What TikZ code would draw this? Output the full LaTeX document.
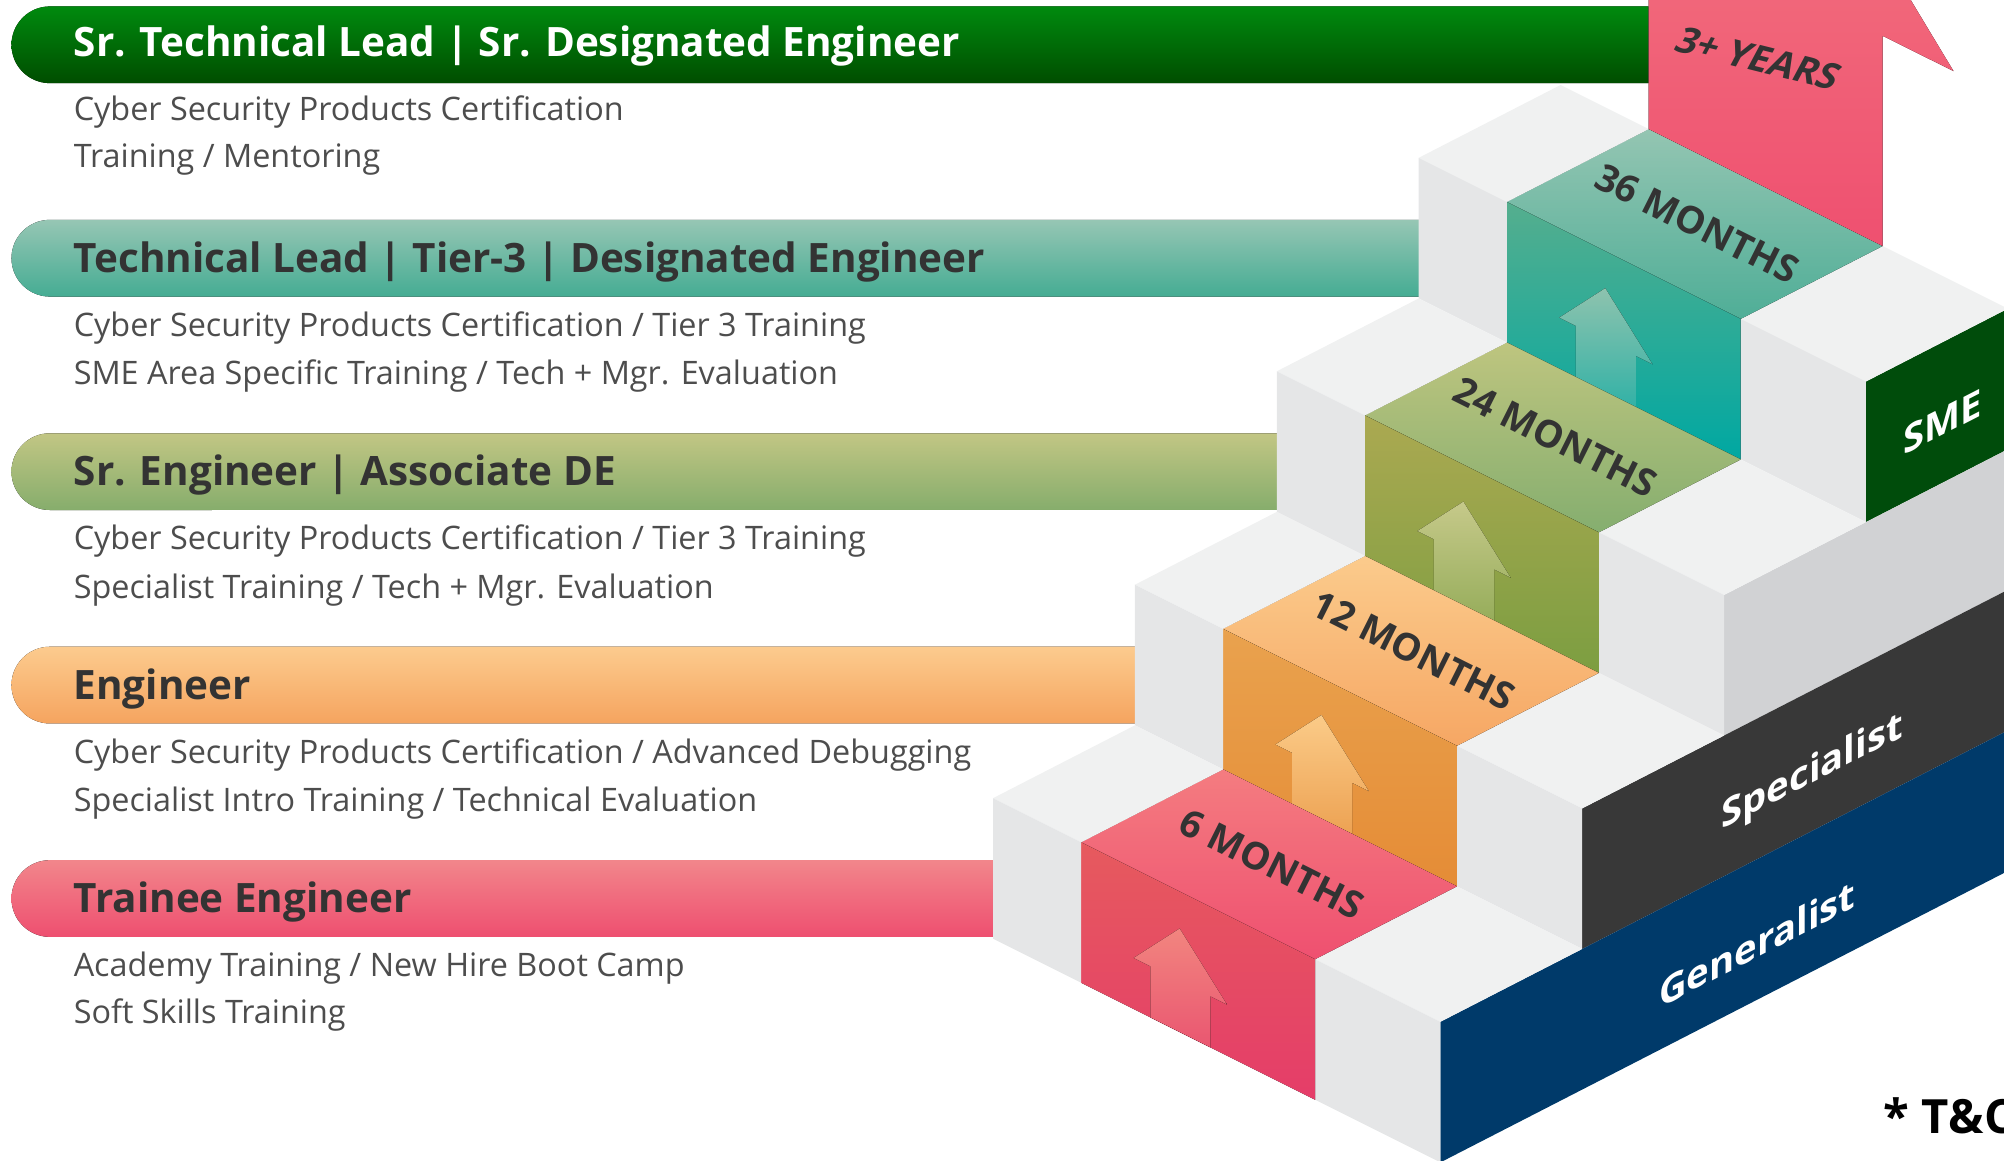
\documentclass[tikz,border=0pt]{standalone}
\usepackage{fontspec}
\setmainfont{Open Sans}
\usepackage{tikz}
\definecolor{titlegray}{HTML}{333333}
\definecolor{subgray}{HTML}{4D4D4D}
\definecolor{pinkA}{HTML}{F2868B}\definecolor{pinkB}{HTML}{EE4F70}
\definecolor{orangeA}{HTML}{FCCB8E}\definecolor{orangeB}{HTML}{F5A45F}
\definecolor{oliveA}{HTML}{C2C684}\definecolor{oliveB}{HTML}{86AD6C}
\definecolor{tealA}{HTML}{96C6B4}\definecolor{tealB}{HTML}{45AC93}
\definecolor{greenA}{HTML}{008A0E}\definecolor{greenB}{HTML}{004D00}
\definecolor{pinktopA}{HTML}{F47C80}\definecolor{pinktopB}{HTML}{EF5070}
\definecolor{orangetopA}{HTML}{FBCB8C}\definecolor{orangetopB}{HTML}{F6A764}
\definecolor{olivetopA}{HTML}{BEC57F}\definecolor{olivetopB}{HTML}{85AE6F}
\definecolor{tealtopA}{HTML}{94C5B2}\definecolor{tealtopB}{HTML}{4FAE97}
\definecolor{pinkrisA}{HTML}{E65A5E}\definecolor{pinkrisB}{HTML}{E53D69}
\definecolor{orangerisA}{HTML}{E9A24E}\definecolor{orangerisB}{HTML}{E58C36}
\definecolor{oliverisA}{HTML}{ABA951}\definecolor{oliverisB}{HTML}{7C9E41}
\definecolor{tealrisA}{HTML}{55AE8E}\definecolor{tealrisB}{HTML}{00A8A2}
\definecolor{pinkarr}{HTML}{F2857F}\definecolor{orangearr}{HTML}{FBCB88}
\definecolor{olivearr}{HTML}{C6C98A}\definecolor{tealarr}{HTML}{8EC3AE}
\definecolor{blocktop}{HTML}{F0F1F1}\definecolor{blockfront}{HTML}{E5E6E7}
\definecolor{sidegray}{HTML}{D1D2D4}\definecolor{navy}{HTML}{003A6A}
\definecolor{specgray}{HTML}{383838}\definecolor{smegreen}{HTML}{004C0B}
\definecolor{yearsA}{HTML}{F1677A}\definecolor{yearsB}{HTML}{EF5070}

\begin{document}
\begin{tikzpicture}[x=0.01cm,y=-0.01cm,
  title/.style={anchor=base west,inner sep=0,font=\fontsize{9}{10}\selectfont\bfseries,text=titlegray},
  sub/.style={anchor=base west,inner sep=0,font=\fontsize{7.2}{9}\selectfont,text=subgray},
  months/.style={rotate=-26.6,font=\fontsize{8.4}{10}\selectfont\bfseries,text=titlegray},
  band/.style={yslant=0.514,font=\fontsize{8.5}{10}\selectfont\bfseries,text=white}]
\useasboundingbox (0,0) rectangle (1568,908);
\clip (0,0) rectangle (1568,908);

\foreach \k/\tc/\bc/\xr in {0/pinkA/pinkB/778,1/orangeA/orangeB/889,2/oliveA/oliveB/1000,3/tealA/tealB/1111,4/greenA/greenB/1290}
  \fill[top color=\tc,bottom color=\bc] (\xr,673-167*\k) -- (39,673-167*\k)
    arc[start angle=90,end angle=270,radius=0.3cm] -- (\xr,733-167*\k) -- cycle;

\node[title,text=white] (lead2) at (57,44) {Sr. Technical Lead | Sr. Designated Engineer};
\node[sub] (lead2a) at (57,94) {Cyber Security Products Certification};
\node[sub] (lead2b) at (57,131) {Training / Mentoring};
\node[title] (lead) at (57,213) {Technical Lead | Tier-3 | Designated Engineer};
\node[sub] (leada) at (57,263) {Cyber Security Products Certification / Tier 3 Training};
\node[sub] (leadb) at (57,301) {SME Area Specific Training / Tech + Mgr. Evaluation};
\node[title] (senior) at (57,380) {Sr. Engineer | Associate DE};
\node[sub] (seniora) at (57,430) {Cyber Security Products Certification / Tier 3 Training};
\node[sub] (seniorb) at (57,468) {Specialist Training / Tech + Mgr. Evaluation};
\node[title] (eng) at (57,547) {Engineer};
\node[sub] (enga) at (57,597) {Cyber Security Products Certification / Advanced Debugging};
\node[sub] (engb) at (57,635) {Specialist Intro Training / Technical Evaluation};
\node[title] (trainee) at (57,714) {Trainee Engineer};
\node[sub] (traineea) at (57,764) {Academy Training / New Hire Boot Camp};
\node[sub] (traineeb) at (57,801) {Soft Skills Training};

\foreach \k/\c/\sc/\lab in {3/teal/smegreen/36 MONTHS,2/olive/sidegray/24 MONTHS,1/orange/specgray/12 MONTHS,0/pink/navy/6 MONTHS}{
  \begin{scope}[shift={(111*\k,-167*\k)}]
    \fill[\sc] (1127,799.5) -- (1682,514.5) -- (1682,624.5) -- (1127,909.5) -- cycle;
    \fill[blocktop] (1029,750.5) -- (1140,693.5) -- (1238,742.5) -- (1127,799.5) -- cycle;
    \fill[blockfront] (1029,750.5) -- (1127,799.5) -- (1127,909.5) -- (1029,860.5) -- cycle;
    \fill[top color=\c topA,bottom color=\c topB] (846,659) -- (957,602) -- (1140,693.5) -- (1029,750.5) -- cycle;
    \fill[top color=\c risA,bottom color=\c risB] (846,659) -- (1029,750.5) -- (1029,860.5) -- (846,769) -- cycle;
    \fill[top color=\c arr,bottom color=\c arr!35!\c risB] (923,726.5) -- (960,786) -- (947,779.5)
      -- (947,819.5) -- (900,796) -- (900,756) -- (887,749.5) -- cycle;
    \fill[blocktop] (777,624.5) -- (888,567.5) -- (957,602) -- (846,659) -- cycle;
    \fill[blockfront] (777,624.5) -- (846,659) -- (846,769) -- (777,734.5) -- cycle;
    \node[months] (m\k) at (995,676) {\lab};
  \end{scope}
}

\fill[top color=yearsA,bottom color=yearsB] (1290,101) -- (1290,-5) -- (1492,-5) -- (1528.5,55.6)
  -- (1473,28) -- (1473,192.5) -- cycle;
\node[rotate=-14,xslant=0.25,font=\fontsize{8.2}{10}\selectfont\bfseries,text=titlegray] (years) at (1376,46) {3+ YEARS};

\node[band] (generalist) at (1375,738) {Generalist};
\node[band] (specialist) at (1418,605) {Specialist};
\node[band] (sme) at (1520,330) {SME};

\node[anchor=base west,inner sep=0,font=\fontsize{10.5}{13}\selectfont\bfseries] (tc) at (1473,887) {* T\&C};
\end{tikzpicture}
\end{document}
